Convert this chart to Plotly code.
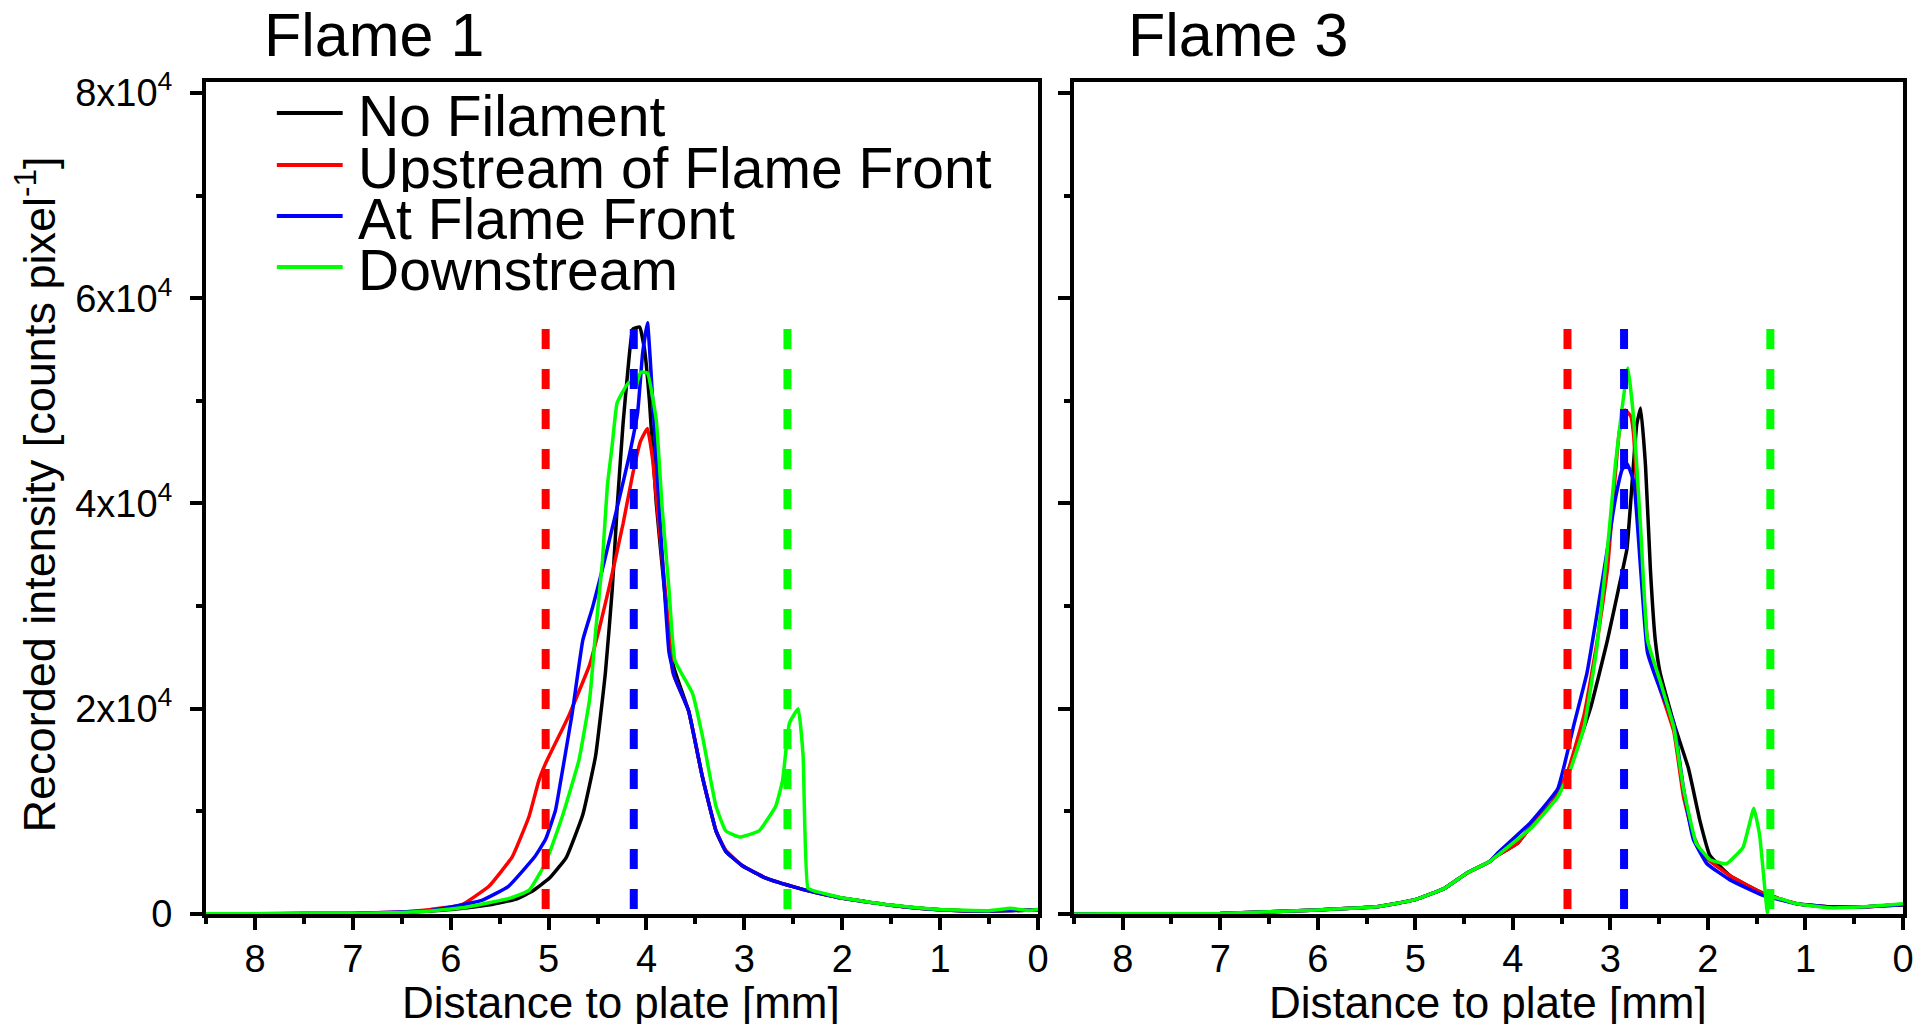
import plotly.graph_objects as go

# ---------------- data ----------------
SERIES_NAMES = ["No Filament", "Upstream of Flame Front", "At Flame Front", "Downstream"]
SERIES_COLORS = ["#000000", "#FF0000", "#0000FF", "#00FF00"]
PANEL_TITLES = ["Flame 1", "Flame 3"]

# Flame 1
F1_NOFIL_X = [8.5, 8.0, 7.5, 7.0, 6.5, 6.2, 6.0, 5.6, 5.33, 5.16, 4.99, 4.82, 4.65, 4.52, 4.42, 4.35, 4.30, 4.24, 4.19, 4.14, 4.07, 4.02, 3.97, 3.90, 3.80, 3.72, 3.57, 3.43, 3.29, 3.19, 3.02, 2.78, 2.44, 2.27, 1.99, 1.5, 1.0, 0.5, 0.0]
F1_NOFIL_Y = [20, 30, 40, 60, 150, 300, 440, 900, 1460, 2260, 3500, 5500, 9700, 15400, 23500, 31600, 39600, 47700, 53000, 57000, 57200, 55000, 50000, 40000, 30000, 24000, 19800, 13400, 8100, 6100, 4700, 3500, 2500, 2100, 1530, 850, 420, 300, 400]

F1_UP_X = [8.5, 8.0, 7.0, 6.5, 6.2, 5.89, 5.61, 5.37, 5.2, 5.1, 5.03, 4.99, 4.86, 4.79, 4.58, 4.48, 4.38, 4.24, 4.14, 4.06, 3.99, 3.94, 3.87, 3.80, 3.73, 3.57, 3.43, 3.29, 3.19, 3.02, 2.78, 2.44, 2.27, 1.99, 1.5, 1.0, 0.5, 0.0]
F1_UP_Y = [20, 30, 60, 200, 450, 880, 2700, 5600, 9500, 13000, 14700, 15500, 18000, 19400, 24300, 27900, 31900, 38000, 42900, 46100, 47300, 44500, 37600, 30700, 23500, 19800, 13400, 8100, 6200, 4700, 3500, 2500, 2100, 1530, 850, 420, 300, 400]

F1_AT_X = [8.5, 8.0, 7.0, 6.5, 6.2, 5.69, 5.41, 5.14, 5.03, 4.93, 4.89, 4.76, 4.65, 4.55, 4.45, 4.38, 4.28, 4.18, 4.09, 4.04, 3.99, 3.94, 3.87, 3.77, 3.71, 3.57, 3.43, 3.29, 3.19, 3.02, 2.78, 2.44, 2.27, 1.99, 1.5, 1.0, 0.5, 0.0]
F1_AT_Y = [20, 30, 60, 200, 350, 1300, 2700, 5600, 7300, 10100, 12200, 19500, 26700, 29900, 33600, 36400, 40400, 44500, 48900, 54600, 57600, 50600, 39600, 25500, 23000, 19800, 13400, 8100, 6100, 4700, 3500, 2500, 2100, 1530, 850, 420, 300, 400]

F1_DOWN_X = [8.5, 8.0, 7.0, 6.5, 6.2, 5.89, 5.41, 5.2, 5.03, 4.86, 4.69, 4.58, 4.52, 4.45, 4.40, 4.35, 4.30, 4.18, 4.11, 4.06, 3.99, 3.90, 3.84, 3.77, 3.71, 3.53, 3.43, 3.29, 3.19, 3.05, 2.85, 2.68, 2.61, 2.54, 2.45, 2.40, 2.35, 2.27, 1.99, 1.5, 1.0, 0.5, 0.28, 0.1, 0.0]
F1_DOWN_Y = [20, 30, 60, 150, 300, 600, 1500, 2300, 5000, 9500, 15000, 21000, 27500, 34400, 41700, 45700, 49800, 51800, 51400, 52800, 52700, 48100, 39600, 31600, 24700, 21500, 17400, 10500, 8100, 7500, 8100, 10500, 13000, 18600, 20000, 15400, 2500, 2200, 1550, 870, 430, 320, 550, 350, 450]

F1_MARKER_X = [5.03, 4.13, 2.56]   # upstream, at front, downstream positions

# Flame 3
F3_NOFIL_X = [8.5, 8.0, 7.0, 6.0, 5.4, 5.0, 4.7, 4.47, 4.24, 4.16, 3.95, 3.82, 3.6, 3.54, 3.37, 3.20, 3.03, 2.90, 2.83, 2.78, 2.73, 2.69, 2.64, 2.59, 2.54, 2.49, 2.35, 2.20, 2.08, 1.98, 1.77, 1.43, 1.09, 0.75, 0.41, 0.0]
F3_NOFIL_Y = [10, 20, 50, 400, 700, 1400, 2500, 4000, 5100, 5700, 6900, 8500, 10800, 11600, 15400, 20200, 26700, 32400, 35600, 41700, 47700, 49300, 43700, 33600, 26700, 23500, 18600, 14200, 9000, 5700, 3700, 2000, 1000, 700, 700, 900]

F3_UP_X = [8.5, 8.0, 7.0, 6.0, 5.4, 5.0, 4.7, 4.47, 4.24, 4.16, 3.95, 3.82, 3.6, 3.44, 3.27, 3.14, 3.03, 2.96, 2.91, 2.85, 2.79, 2.76, 2.69, 2.62, 2.49, 2.35, 2.25, 2.15, 2.05, 1.77, 1.43, 1.09, 0.75, 0.41, 0.0]
F3_UP_Y = [10, 20, 50, 400, 700, 1400, 2500, 4000, 5100, 5700, 6900, 8500, 10800, 13800, 19400, 26300, 33600, 41700, 46900, 49100, 48500, 46500, 35600, 26700, 21900, 17800, 11400, 7700, 5700, 3700, 2000, 1000, 700, 700, 900]

F3_AT_X = [8.5, 8.0, 7.0, 6.0, 5.4, 5.0, 4.7, 4.47, 4.24, 4.16, 3.82, 3.54, 3.37, 3.24, 3.14, 3.03, 2.95, 2.88, 2.83, 2.76, 2.69, 2.62, 2.49, 2.35, 2.25, 2.15, 2.01, 1.77, 1.43, 1.09, 0.75, 0.41, 0.0]
F3_AT_Y = [10, 20, 50, 400, 700, 1400, 2500, 4000, 5100, 5900, 8900, 12200, 18600, 23500, 29100, 35600, 40400, 43300, 43900, 42100, 33600, 25500, 21900, 18600, 12200, 7300, 4900, 3300, 1800, 1000, 700, 700, 900]

F3_DOWN_X = [8.5, 8.0, 7.0, 6.0, 5.4, 5.0, 4.7, 4.47, 4.24, 4.16, 3.82, 3.54, 3.42, 3.27, 3.14, 3.03, 2.95, 2.88, 2.82, 2.76, 2.69, 2.62, 2.49, 2.35, 2.25, 2.12, 1.98, 1.81, 1.64, 1.53, 1.47, 1.39, 1.37, 1.09, 0.75, 0.41, 0.0]
F3_DOWN_Y = [10, 20, 50, 400, 700, 1400, 2500, 4000, 5100, 5700, 8300, 11400, 13800, 18200, 25900, 35600, 43700, 49300, 53200, 48100, 37600, 26700, 22700, 18200, 12200, 6900, 5300, 4900, 6500, 10300, 7700, 100, 1700, 1000, 600, 700, 1000]

F3_MARKER_X = [3.44, 2.86, 1.36]

MARKER_TOP = 57000

Y_TICK_VALS = [0, 20000, 40000, 60000, 80000]
Y_TICK_TEXT = ["0", "2x10<sup>4</sup>", "4x10<sup>4</sup>", "6x10<sup>4</sup>", "8x10<sup>4</sup>"]
X_TICK_VALS = [0, 1, 2, 3, 4, 5, 6, 7, 8]

X_TITLE = "Distance to plate [mm]"
Y_TITLE = "Recorded intensity [counts pixel<sup>-1</sup>]"

# ---------------- layout geometry ----------------
W, H = 1926, 1029
ML, MR, MT, MB = 206, 19, 82, 115
PW = W - ML - MR
PH = H - MT - MB
FONT = "Liberation Sans, Arial, sans-serif"


def px(xp):  # window pixel -> paper fraction
    return (xp - ML) / PW


def py(yp):
    return (H - MB - yp) / PH


fig = go.Figure()

panels = [
    ("x", "y", [(F1_NOFIL_X, F1_NOFIL_Y), (F1_UP_X, F1_UP_Y), (F1_AT_X, F1_AT_Y), (F1_DOWN_X, F1_DOWN_Y)], F1_MARKER_X),
    ("x2", "y2", [(F3_NOFIL_X, F3_NOFIL_Y), (F3_UP_X, F3_UP_Y), (F3_AT_X, F3_AT_Y), (F3_DOWN_X, F3_DOWN_Y)], F3_MARKER_X),
]

for xa, ya, series, markers in panels:
    for (sx, sy), name, col in zip(series, SERIES_NAMES, SERIES_COLORS):
        fig.add_trace(go.Scatter(x=sx, y=sy, mode="lines", name=name, showlegend=False,
                                 line=dict(color=col, width=3.5, shape="spline", smoothing=0.35),
                                 xaxis=xa, yaxis=ya))
    for mx, col in zip(markers, SERIES_COLORS[1:]):
        fig.add_trace(go.Scatter(x=[mx, mx], y=[MARKER_TOP, 0], mode="lines", showlegend=False,
                                 line=dict(color=col, width=8, dash="20px,20px"), xaxis=xa, yaxis=ya))

axis_common = dict(showline=True, linewidth=4, linecolor="black", mirror=True,
                   ticks="outside", ticklen=12, tickwidth=3.5, tickcolor="black",
                   showgrid=False, zeroline=False,
                   tickfont=dict(family=FONT, size=38, color="black"))

xdom1 = [0, px(1040)]
xdom2 = [px(1076), 1]

for i, dom in enumerate([xdom1, xdom2]):
    key = "xaxis" if i == 0 else "xaxis2"
    fig.update_layout({key: dict(axis_common, domain=dom, range=[8.5, 0], anchor="y" if i == 0 else "y2",
                                 tickmode="array", tickvals=X_TICK_VALS, ticklabelstandoff=-4,
                                 minor=dict(tickmode="linear", tick0=0, dtick=0.5, ticks="outside",
                                            ticklen=6, tickwidth=3.5, tickcolor="black"))})
    ykey = "yaxis" if i == 0 else "yaxis2"
    fig.update_layout({ykey: dict(axis_common, domain=[0, 1], range=[0, 81070], anchor="x" if i == 0 else "x2",
                                  tickmode="array", tickvals=Y_TICK_VALS, ticktext=Y_TICK_TEXT,
                                  showticklabels=(i == 0), ticklabelstandoff=10,
                                  minor=dict(tickmode="linear", tick0=0, dtick=10000, ticks="outside",
                                             ticklen=6, tickwidth=3.5, tickcolor="black"))})

annotations = []
# panel titles
for title, xp in zip(PANEL_TITLES, [262, 1128]):
    annotations.append(dict(text=title, xref="paper", yref="paper", x=px(xp), y=py(35),
                            xanchor="left", yanchor="middle", showarrow=False, height=66,
                            valign="middle",
                            font=dict(family=FONT, size=61, color="black")))
# x titles
for xc in [622, 1491]:
    annotations.append(dict(text=X_TITLE, xref="paper", yref="paper", x=px(xc), y=py(1002),
                            xanchor="center", yanchor="middle", showarrow=False, height=44,
                            valign="middle",
                            font=dict(family=FONT, size=44, color="black")))
# y title
annotations.append(dict(text=Y_TITLE, xref="paper", yref="paper", x=px(36), y=py(494),
                        xanchor="center", yanchor="middle", showarrow=False, textangle=-90,
                        font=dict(family=FONT, size=45, color="black")))

# legend (drawn by hand to keep the tight row spacing of the original)
shapes = []
legend_rows = [113, 165, 216, 267]
for name, col, yp in zip(SERIES_NAMES, SERIES_COLORS, legend_rows):
    shapes.append(dict(type="line", xref="paper", yref="paper", x0=px(277), x1=px(343),
                       y0=py(yp), y1=py(yp), line=dict(color=col, width=4)))
    annotations.append(dict(text=name, xref="paper", yref="paper", x=px(356), y=py(yp + 3),
                            xanchor="left", yanchor="middle", showarrow=False, height=48,
                            valign="middle",
                            font=dict(family=FONT, size=57, color="black")))

fig.update_layout(width=W, height=H, margin=dict(l=ML, r=MR, t=MT, b=MB),
                  paper_bgcolor="white", plot_bgcolor="white",
                  annotations=annotations, shapes=shapes, showlegend=False,
                  font=dict(family=FONT, color="black"))

fig.write_html("out.html", config={"displayModeBar": False},
               post_script="document.documentElement.style.overflow='hidden';"
                           "document.body.style.margin='0';document.body.style.overflow='hidden';")
